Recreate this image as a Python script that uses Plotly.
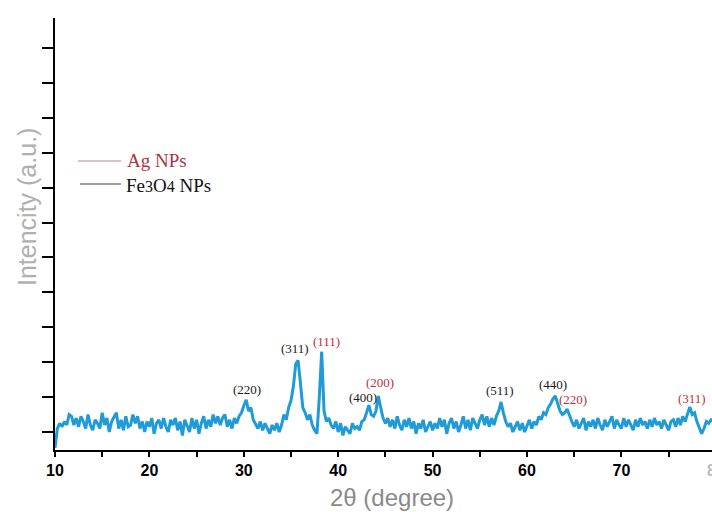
import numpy as np
import plotly.graph_objects as go

# ---- data ----
theta_start = 10.0
theta_step = 0.25
intensity = [
    -0.45, 0.10, 0.25, 0.15,
    0.30, 0.20, 0.50, 0.45,
    0.20, 0.40, 0.15, 0.45,
    0.30, 0.10, 0.50, 0.20,
    0.05, 0.35, 0.25, 0.10,
    0.55, 0.20, 0.40, 0.00,
    0.30, 0.45, 0.55, 0.10,
    0.35, 0.05, 0.45, 0.15,
    0.20, 0.50, 0.25, 0.45,
    0.10, 0.30, 0.00, 0.30,
    0.15, 0.40, -0.05, 0.25,
    0.35, 0.10, 0.40, 0.15,
    0.00, 0.35, 0.20, 0.40,
    0.05, 0.30, -0.10, 0.35,
    0.15, 0.00, 0.40, 0.10,
    0.35, -0.05, 0.25, 0.45,
    0.10, 0.35, 0.15, 0.50,
    0.25, 0.45, 0.20, 0.40,
    0.50, 0.15, 0.35, 0.10,
    0.40, 0.25, 0.45, 0.55,
    0.75, 0.92, 0.60, 0.70,
    0.35, 0.20, 0.10, 0.30,
    0.05, 0.25, 0.10, -0.05,
    0.20, 0.05, 0.25, 0.00,
    0.20, 0.50, 0.35, 0.70,
    0.90, 1.30, 1.95, 2.05,
    1.40, 0.70, 0.55, 0.35,
    0.50, 0.20, 0.05, -0.05,
    1.00, 2.30, 0.60, 0.30,
    0.40, 0.20, 0.10, 0.30,
    0.00, 0.25, -0.10, 0.15,
    0.05, -0.05, 0.25, 0.10,
    0.15, 0.05, 0.30, 0.35,
    0.55, 0.77, 0.50, 0.45,
    0.60, 1.03, 0.70, 0.40,
    0.25, 0.40, 0.15, 0.35,
    0.10, 0.45, 0.20, 0.05,
    0.35, 0.15, 0.40, 0.10,
    0.30, -0.05, 0.25, 0.10,
    0.35, 0.00, 0.15, 0.30,
    0.05, 0.25, 0.10, 0.40,
    0.15, 0.35, -0.05, 0.25,
    0.40, 0.10, 0.30, 0.00,
    0.20, 0.45, 0.10, 0.35,
    0.05, 0.40, 0.25, 0.10,
    0.35, 0.50, 0.20, 0.45,
    0.15, 0.40, 0.20, 0.45,
    0.60, 0.86, 0.55, 0.30,
    0.15, 0.25, 0.00, 0.15,
    0.30, 0.05, 0.25, 0.00,
    0.15, 0.35, 0.10, 0.30,
    0.20, 0.45, 0.35, 0.55,
    0.50, 0.70, 0.80, 0.95,
    1.03, 0.80, 0.60, 0.50,
    0.55, 0.66, 0.45, 0.30,
    0.15, 0.35, 0.10, 0.25,
    0.40, 0.05, 0.30, 0.15,
    0.35, 0.10, 0.40, 0.20,
    0.05, 0.35, 0.15, 0.30,
    0.45, 0.10, 0.35, 0.20,
    0.10, 0.40, 0.15, 0.35,
    0.20, 0.05, 0.35, 0.15,
    0.40, 0.20, 0.30, 0.10,
    0.35, 0.15, 0.40, 0.20,
    0.30, 0.10, 0.35, 0.20,
    0.05, 0.30, 0.35, 0.15,
    0.40, 0.20, 0.45, 0.30,
    0.50, 0.72, 0.50, 0.55,
    0.30, 0.15, -0.05, 0.10,
    0.30, 0.25, 0.35, 0.30,
]
theta = theta_start + theta_step * np.arange(len(intensity))

peak_labels = ["(220)", "(311)", "(111)", "(400)", "(200)", "(511)", "(440)", "(220)", "(311)"]
peak_label_x = [30.3, 35.4, 38.8, 42.6, 44.4, 57.1, 62.75, 64.9, 77.5]
peak_label_y = [1.23, 2.38, 2.58, 1.00, 1.43, 1.20, 1.35, 0.92, 0.97]
peak_phase = ["Fe", "Fe", "Ag", "Fe", "Ag", "Fe", "Fe", "Ag", "Ag"]

x_tick_vals = [10, 15, 20, 25, 30, 35, 40, 45, 50, 55, 60, 65, 70, 75]
x_tick_text = ["10", "", "20", "", "30", "", "40", "", "50", "", "60", "", "70", ""]
y_tick_vals = list(range(0, 12))

# ---- layout geometry ----
W, H = 712, 512
L, R, T, B = 55, 0, 18, 62
PW, PH = W - L - R, H - T - B

def xp(px):
    return (px - L) / PW

def yp(py):
    return (H - B - py) / PH

BLUE = "#1f9bd7"
RED = "#c0303a"
SERIF = "Liberation Serif, Times New Roman, serif"
SANS = "Liberation Sans, Arial, sans-serif"

fig = go.Figure()
fig.add_trace(go.Scatter(
    x=theta, y=intensity, mode="lines",
    line=dict(color=BLUE, width=3, shape="linear"),
    showlegend=False, hoverinfo="skip",
))

annotations = []
for lab, lx, ly, ph in zip(peak_labels, peak_label_x, peak_label_y, peak_phase):
    annotations.append(dict(
        x=lx, y=ly, xref="x", yref="y", text=lab, showarrow=False,
        font=dict(family=SERIF, size=13, color=RED if ph == "Ag" else "#1a1a1a"),
        xanchor="center", yanchor="middle",
    ))

# legend (drawn manually)
annotations.append(dict(x=xp(125), y=yp(160), xref="paper", yref="paper", text="Ag NPs",
                        showarrow=False, xanchor="left", yanchor="middle",
                        font=dict(family=SERIF, size=19, color="#b0343f")))
annotations.append(dict(x=xp(124), y=yp(185), xref="paper", yref="paper",
                        text="Fe<span style='font-size:16px'>3</span>O<span style='font-size:16px'>4</span> NPs",
                        showarrow=False, xanchor="left", yanchor="middle",
                        font=dict(family=SERIF, size=19, color="#111111")))

# axis titles
annotations.append(dict(x=xp(27), y=yp(207), xref="paper", yref="paper", text="Intencity (a.u.)",
                        showarrow=False, textangle=-90, xanchor="center", yanchor="middle",
                        font=dict(family=SANS, size=25, color="#b0b0b0")))
annotations.append(dict(x=xp(392), y=yp(497), xref="paper", yref="paper", text="2θ (degree)",
                        showarrow=False, xanchor="center", yanchor="middle",
                        font=dict(family=SANS, size=24, color="#8a8a8a")))
# cut-off "80" tick label at right edge
annotations.append(dict(x=xp(716), y=yp(470), xref="paper", yref="paper", text="<b>80</b>",
                        showarrow=False, xanchor="center", yanchor="middle",
                        font=dict(family=SANS, size=16, color="#bbbbbb")))

shapes = [
    dict(type="line", xref="paper", yref="paper", x0=xp(78), x1=xp(121), y0=yp(161), y1=yp(161),
         line=dict(color="#c4808a", width=1.2)),
    dict(type="line", xref="paper", yref="paper", x0=xp(80), x1=xp(121), y0=yp(184), y1=yp(184),
         line=dict(color="#444444", width=1.2)),
]

fig.update_layout(
    width=W, height=H,
    margin=dict(l=L, r=R, t=T, b=B, pad=0),
    paper_bgcolor="white", plot_bgcolor="white",
    annotations=annotations, shapes=shapes,
    xaxis=dict(
        range=[10, 10 + PW / 9.44], tickmode="array", tickvals=x_tick_vals, ticktext=x_tick_text,
        ticks="outside", ticklen=5, tickwidth=2, tickcolor="black",
        showline=True, linecolor="black", linewidth=2, showgrid=False, zeroline=False,
        tickfont=dict(family=SANS, size=16, color="black", weight="bold"),
    ),
    yaxis=dict(
        range=[-0.516, 11.86], tickmode="array", tickvals=y_tick_vals, showticklabels=False,
        ticks="outside", ticklen=11, tickwidth=2, tickcolor="black",
        showline=True, linecolor="black", linewidth=2, showgrid=False, zeroline=False,
    ),
)

fig.write_html("out.html")
